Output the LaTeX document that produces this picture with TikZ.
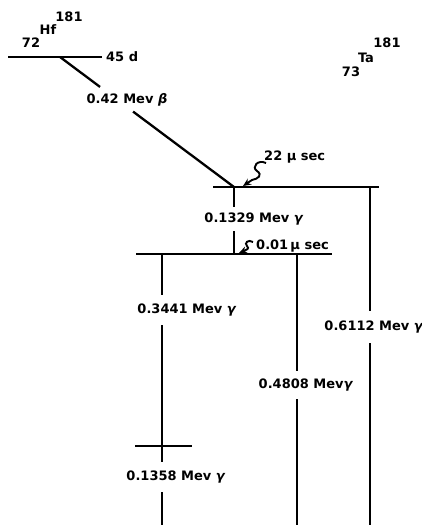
\documentclass[tikz,border=0pt]{standalone}
\usepackage{fontspec}
\setmainfont{DejaVu Sans}
\usetikzlibrary{calc,arrows.meta}
\tikzset{
  lbl/.style={font=\fontsize{13}{14}\selectfont\bfseries, inner xsep=1pt, inner ysep=8pt},
  nuc/.style={font=\fontsize{13}{14}\selectfont\bfseries, inner sep=0pt},
  lvl/.style={line width=2.3pt},
  tr/.style={line width=2.3pt},
  sq/.style={line width=1.9pt, -{Stealth[length=8pt,width=7pt]}}
}
\begin{document}
\begin{tikzpicture}[x=1pt,y=-1pt]
\useasboundingbox (0,0) rectangle (422,525);
% nuclide labels
\node[nuc] (z72) at (31,43) {72};
\node[nuc] (hf) at (48,30) {Hf};
\node[nuc] (a1) at (69,17) {181};
\node[nuc] (z73) at (351,72) {73};
\node[nuc] (ta) at (366,58) {Ta};
\node[nuc] (a2) at (387,43) {181};
% Hf level
\coordinate (hfL) at (8,57);
\coordinate (hfR) at (102,57);
\coordinate (hfB) at (60,57);
\draw[lvl] (hfL) -- (hfR);
\node[lbl, anchor=west, inner ysep=0pt] (t45) at (105,57) {45 d};
% level A
\coordinate (aL) at (213,187);
\coordinate (aR) at (379,187);
\coordinate (aT) at (234,187);
\coordinate (aV) at (370,187);
\draw[lvl] (aL) -- (aR);
% beta
\node[lbl, inner sep=0pt] (beta) at (127,100) {0.42 Mev \textit{β}};
\draw[tr] (hfB) -- ($(hfB)!0.23!(aT)$);
\draw[tr] ($(hfB)!0.42!(aT)$) -- (aT);
% level B
\coordinate (bL) at (136,254);
\coordinate (bR) at (332,254);
\coordinate (bT) at (234,254);
\coordinate (bV1) at (162,254);
\coordinate (bV2) at (297,254);
\draw[lvl] (bL) -- (bR);
% 0.1329
\node[lbl, inner ysep=6pt] (g1) at (254,219) {0.1329 Mev \textit{γ}};
\draw[tr] (aT) -- (aT |- g1.north);
\draw[tr] (bT |- g1.south) -- (bT);
% half-lives
\node[lbl, anchor=west, inner ysep=0pt] (h1) at (263,157) {22 μ sec};
\node[lbl, anchor=west, inner ysep=0pt] (h2) at (255,246) {0.01\,μ sec};
\coordinate (s1) at (266,163);
\coordinate (e1) at (243,186);
\draw[sq] (s1) .. controls (258,159) and (251,167) .. (257,171) .. controls (263,175) and (258,179) .. (252,180) -- (e1);
\coordinate (s2) at (253,242);
\coordinate (e2) at (239,253);
\draw[sq] (s2) .. controls (248,239) and (244,243) .. (247,246) .. controls (250,249) and (246,250) .. (e2);
% 0.3441 and 0.1358
\node[lbl, inner ysep=9pt] (g2) at (187,310) {0.3441 Mev \textit{γ}};
\coordinate (cx) at (162,446);
\coordinate (cL) at (135,446);
\coordinate (cR) at (192,446);
\draw[lvl] (cL) -- (cR);
\draw[tr] (bV1) -- (bV1 |- g2.north);
\draw[tr] (bV1 |- g2.south) -- (cx);
\node[lbl, inner ysep=9pt] (g3) at (176,477) {0.1358 Mev \textit{γ}};
\coordinate (end1) at (162,525);
\draw[tr] (cx) -- (cx |- g3.north);
\draw[tr] (cx |- g3.south) -- (end1);
% 0.4808
\node[lbl, inner ysep=8pt] (g4) at (306,385) {0.4808 Mev\textit{γ}};
\coordinate (end2) at (297,525);
\draw[tr] (bV2) -- (bV2 |- g4.north);
\draw[tr] (bV2 |- g4.south) -- (end2);
% 0.6112
\node[lbl, inner ysep=10pt] (g5) at (374,327) {0.6112 Mev \textit{γ}};
\coordinate (end3) at (370,525);
\draw[tr] (aV) -- (aV |- g5.north);
\draw[tr] (aV |- g5.south) -- (end3);
\end{tikzpicture}
\end{document}
